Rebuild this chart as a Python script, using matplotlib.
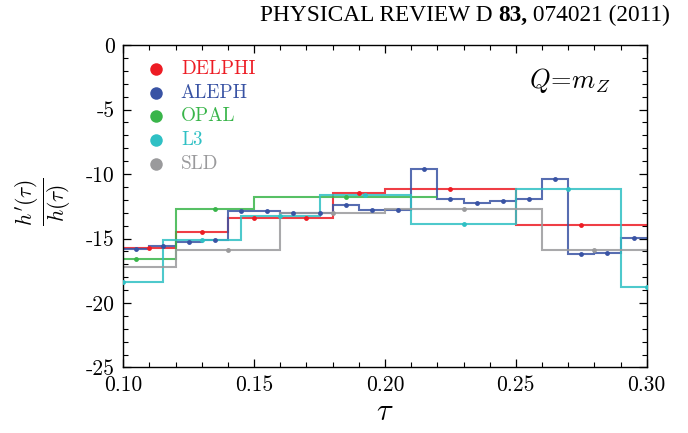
import numpy as np
import matplotlib
matplotlib.use("Agg")
import matplotlib.pyplot as plt
from matplotlib.ticker import MultipleLocator, FormatStrFormatter

plt.rcParams["font.family"] = ["cmr10"]
plt.rcParams["mathtext.fontset"] = "cm"
plt.rcParams["axes.unicode_minus"] = False
plt.rcParams["axes.formatter.use_mathtext"] = True

# h'(tau)/h(tau) extracted per experiment, binned in tau
delphi_edges = [0.10, 0.12, 0.14, 0.16, 0.18, 0.20, 0.25, 0.30]
delphi_vals = [-15.72, -14.47, -13.43, -13.40, -11.50, -11.16, -13.93]

aleph_edges = [0.10, 0.11, 0.12, 0.13, 0.14, 0.15, 0.16, 0.17, 0.18, 0.19, 0.20,
               0.21, 0.22, 0.23, 0.24, 0.25, 0.26, 0.27, 0.28, 0.29, 0.30]
aleph_vals = [-15.84, -15.60, -15.29, -15.12, -12.84, -12.87, -13.00, -13.02, -12.40, -12.79,
              -12.77, -9.59, -11.91, -12.25, -12.07, -11.96, -10.36, -16.23, -16.15, -14.96]

opal_edges = [0.09, 0.12, 0.15, 0.22]
opal_vals = [-16.61, -12.71, -11.76]

l3_edges = [0.085, 0.115, 0.145, 0.175, 0.21, 0.25, 0.29, 0.31]
l3_vals = [-18.37, -15.09, -13.28, -11.63, -13.90, -11.16, -18.76]

sld_edges = [0.07, 0.12, 0.16, 0.20, 0.26, 0.30]
sld_vals = [-17.22, -15.87, -13.00, -12.69, -15.92]

names = ["DELPHI", "ALEPH", "OPAL", "L3", "SLD"]
colors = ["#ed1c24", "#3953a4", "#39b54a", "#2fc0c4", "#9a9a9c"]
series = [(delphi_edges, delphi_vals), (aleph_edges, aleph_vals), (opal_edges, opal_vals),
          (l3_edges, l3_vals), (sld_edges, sld_vals)]

fig = plt.figure(figsize=(6.88, 4.33), dpi=100)
ax = fig.add_axes([0.1792, 0.1513, 0.7608, 0.7447])

# gray first, blue on top
for i in [4, 3, 2, 0, 1]:
    edges, vals = series[i]
    edges = np.array(edges)
    ax.stairs(vals, edges, baseline=None, color=colors[i], lw=1.5, alpha=0.85, zorder=2 + i * 0.1)
    centers = 0.5 * (edges[:-1] + edges[1:])
    ax.plot(centers, vals, "o", color=colors[i], ms=3.5, mec="none", zorder=3 + i * 0.1)

ax.set_xlim(0.10, 0.30)
ax.set_ylim(-25, 0)
ax.xaxis.set_major_locator(MultipleLocator(0.05))
ax.xaxis.set_minor_locator(MultipleLocator(0.01))
ax.yaxis.set_major_locator(MultipleLocator(5))
ax.yaxis.set_minor_locator(MultipleLocator(1))
ax.xaxis.set_major_formatter(FormatStrFormatter("%.2f"))
ax.yaxis.set_major_formatter(FormatStrFormatter("%d"))
ax.tick_params(which="both", direction="in", top=True, right=True, labelsize=15.5, pad=6)
ax.tick_params(which="major", length=6, width=0.9)
ax.tick_params(which="minor", length=3.5, width=0.8)
for s in ax.spines.values():
    s.set_linewidth(1.0)

# legend: colored dots with colored labels
for k, (name, c) in enumerate(zip(names, colors)):
    y = 0.9256 - k * 0.0733
    ax.plot([0.0625], [y], "o", color=c, ms=9, mec="none", transform=ax.transAxes, clip_on=False)
    ax.text(0.110, y, name, color=c, fontsize=13.8, va="center", ha="left", transform=ax.transAxes)

ax.text(0.853, 0.89, r"$Q\!=\!m_Z$", fontsize=19, ha="center", va="center", transform=ax.transAxes)

ax.set_xlabel(r"$\tau$", fontsize=22, labelpad=2)
fig.text(0.062, 0.535, r"$\frac{h'(\tau)}{h(\tau)}$", fontsize=22, rotation=90, ha="center", va="center")

# journal header, bold volume number
hdr = dict(fontsize=16.8, family="Liberation Serif", va="baseline")
fig.canvas.draw()
r = fig.canvas.get_renderer()
x = 0.974
for txt, wt in [(" 074021 (2011)", "normal"), ("83,", "bold"), ("PHYSICAL REVIEW D ", "normal")]:
    t = fig.text(x, 0.952, txt, ha="right", fontweight=wt, **hdr)
    w = t.get_window_extent(renderer=r).width / fig.bbox.width
    x -= w

fig.savefig("out.png", dpi=100)
